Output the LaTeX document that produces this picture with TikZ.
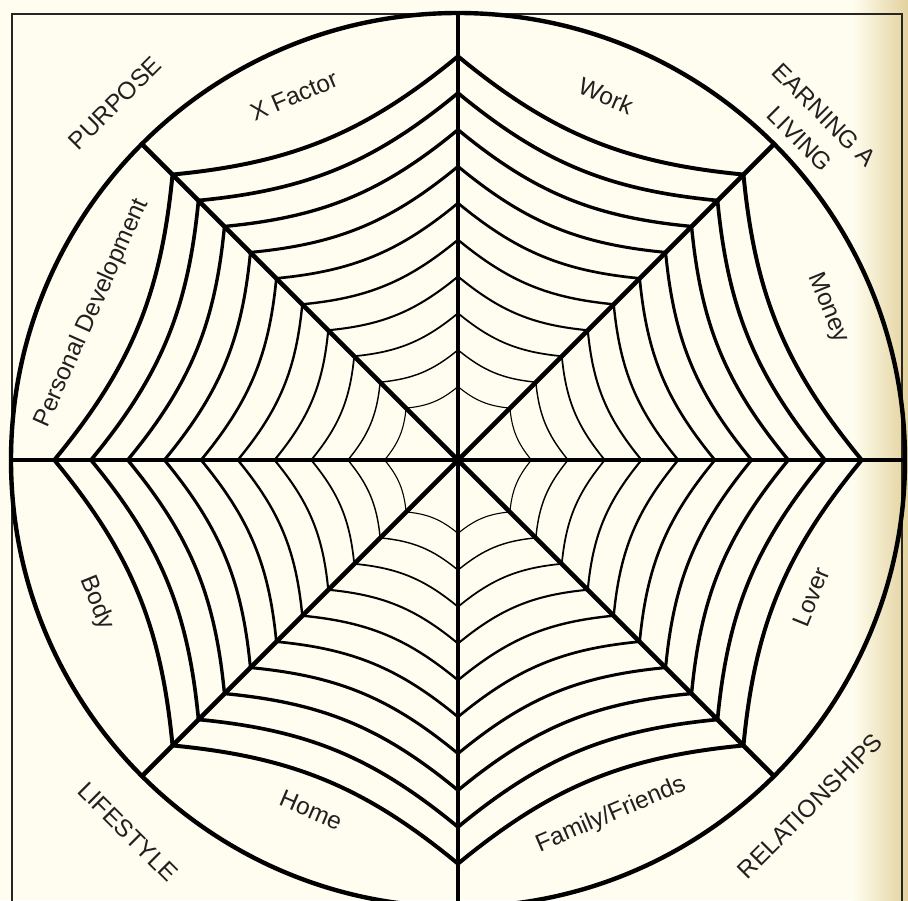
\documentclass[tikz,border=0pt]{standalone}
\usepackage{fontspec}
\setmainfont{Liberation Sans}
\definecolor{paper}{RGB}{254,253,239}
\definecolor{tanedge}{RGB}{228,210,158}
\definecolor{ink}{RGB}{35,31,32}
\definecolor{framecol}{RGB}{40,38,36}
\begin{document}
\begin{tikzpicture}[x=0.5pt,y=0.5pt,
  spoke/.style={line width=2.3pt, draw=black},
  lbl/.style={font=\fontsize{12.2}{17}\selectfont, text=ink, inner sep=0pt, align=center}]
\useasboundingbox (-458,-440) rectangle (450,460);
% background
\fill[paper] (-458,-440) rectangle (450,460);
\shade[left color=paper, right color=tanedge] (395,-440) rectangle (450,460);
% frame
\draw[line width=0.7pt, framecol] (-446,446) rectangle (444,-470);
% rings
\foreach \k in {2,...,11} {
  \pgfmathsetmacro\r{36.7*\k}
  \pgfmathsetmacro\w{0.55+(\k-2)*0.16}
  \foreach \a in {0,45,...,315} {
    \pgfmathsetmacro\b{\a+45}
    \draw[line width=\w pt] (\a:\r) to[bend left=17] (\b:\r);
  }
}
% spokes
\coordinate (c) at (0,0);
\foreach \a in {0,45,...,315} {
  \coordinate (e\a) at (\a:447);
  \draw[spoke] (c) -- (e\a);
}
% circle
\draw[line width=2.2pt] (c) circle (447);
% inner labels
\node[lbl, rotate=23]  (xf)  at (-164,364) {X Factor};
\node[lbl, rotate=-23] (wk)  at (148,364) {Work};
\node[lbl, rotate=-68] (mo)  at (370,152) {Money};
\node[lbl, rotate=68]  (lo)  at (353,-137) {Lover};
\node[lbl, rotate=23]  (ff)  at (153,-355) {Family/Friends};
\node[lbl, rotate=-23] (ho)  at (-147,-350) {Home};
\node[lbl, rotate=-68] (bo)  at (-361,-143) {Body};
\node[lbl, rotate=66]  (pd)  at (-366,147) {Personal Development};
% outer labels
\node[lbl, rotate=45]  (pu)  at (-343,357) {PURPOSE};
\node[lbl, rotate=-45] (ea)  at (354,333) {EARNING A\\LIVING};
\node[lbl, rotate=45]  (re)  at (352,-346) {RELATIONSHIPS};
\node[lbl, rotate=-45] (li)  at (-330,-372) {LIFESTYLE};
\end{tikzpicture}
\end{document}
